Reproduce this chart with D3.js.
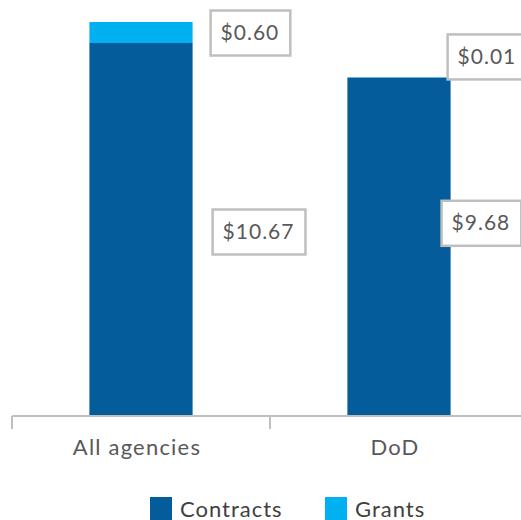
<!DOCTYPE html>
<html>
<head>
<meta charset="utf-8">
<script src="https://cdn.jsdelivr.net/npm/d3@7"></script>
<style>
  body { margin: 0; background: #fff; }
  text { font-family: Lato, "Open Sans", sans-serif; }
</style>
</head>
<body>
<script>
const categories = ["All agencies", "DoD"];
const contracts = [10.67, 9.68];
const grants = [0.60, 0.01];
const seriesNames = ["Contracts", "Grants"];
const colors = ["#045c9b", "#00b0f0"];

const w = 521;
const h = 520;
const baseY = 416;

const svg = d3.select("body").append("svg")
  .attr("width", w)
  .attr("height", h);

const xScale = d3.scaleBand()
  .domain(categories)
  .range([12, 528]);

const yScale = d3.scaleLinear()
  .domain([0, 10.67])
  .range([baseY, 43]);

const barW = xScale.bandwidth() * 0.4;

const rows = categories.map((c, i) => ({ cat: c, Contracts: contracts[i], Grants: grants[i] }));
const stacked = d3.stack().keys(seriesNames)(rows);

svg.selectAll("g.series")
  .data(stacked)
  .enter()
  .append("g")
  .attr("class", "series")
  .attr("fill", (d, i) => colors[i])
  .selectAll("rect")
  .data(d => d)
  .enter()
  .append("rect")
  .attr("x", d => xScale(d.data.cat) + (xScale.bandwidth() - barW) / 2)
  .attr("y", d => yScale(d[1]))
  .attr("width", barW)
  .attr("height", d => yScale(d[0]) - yScale(d[1]));

// axis
const xAxis = d3.axisBottom(xScale).tickSize(0).tickPadding(23);
const gx = svg.append("g")
  .attr("transform", "translate(0," + baseY + ")")
  .call(xAxis);
gx.select(".domain").attr("stroke", "#bfbfbf").attr("stroke-width", 2)
  .attr("d", "M12,0H528");
gx.selectAll(".tick text")
  .attr("font-size", 22)
  .attr("letter-spacing", 1.2)
  .attr("fill", "#595959")
  .attr("dx", -4)
  .attr("font-family", "Lato, sans-serif");
// category boundary ticks
svg.selectAll("line.sep")
  .data([12, xScale(categories[1])])
  .enter()
  .append("line")
  .attr("x1", d => d).attr("x2", d => d)
  .attr("y1", baseY).attr("y2", baseY + 13)
  .attr("stroke", "#bfbfbf")
  .attr("stroke-width", 2);

// data labels with boxes
const fmt = d => "$" + d3.format(".2f")(d);
const nudges = {
  Contracts: [[20, 2], [-9, -24]],
  Grants: [[18, 0], [-3, -21]]
};
stacked.forEach(s => {
  s.forEach((d, i) => {
    const v = d[1] - d[0];
    const x0 = xScale(d.data.cat) + (xScale.bandwidth() + barW) / 2 + nudges[s.key][i][0];
    const cy = (yScale(d[0]) + yScale(d[1])) / 2 + nudges[s.key][i][1];
    const g = svg.append("g");
    const rect = g.append("rect");
    const t = g.append("text")
      .attr("x", x0 + 10)
      .attr("y", cy)
      .attr("dy", "0.35em")
      .attr("font-size", 21)
      .attr("letter-spacing", 1)
      .attr("fill", "#595959")
      .text(fmt(v));
    const bb = t.node().getBBox();
    rect.attr("x", x0)
      .attr("y", cy - 22)
      .attr("width", bb.width + 21)
      .attr("height", 45)
      .attr("fill", "#fff")
      .attr("stroke", "#bfbfbf")
      .attr("stroke-width", 2.5);
  });
});

// legend
const legendX = [150, 325];
const lg = svg.selectAll("g.legend")
  .data(seriesNames)
  .enter()
  .append("g")
  .attr("class", "legend")
  .attr("transform", (d, i) => "translate(" + legendX[i] + ",497)");
lg.append("rect")
  .attr("width", 22).attr("height", 23)
  .attr("fill", (d, i) => colors[i]);
lg.append("text")
  .attr("x", 30)
  .attr("y", 20)
  .attr("font-size", 22)
  .attr("letter-spacing", 1)
  .attr("fill", "#404040")
  .text(d => d);
</script>
</body>
</html>
